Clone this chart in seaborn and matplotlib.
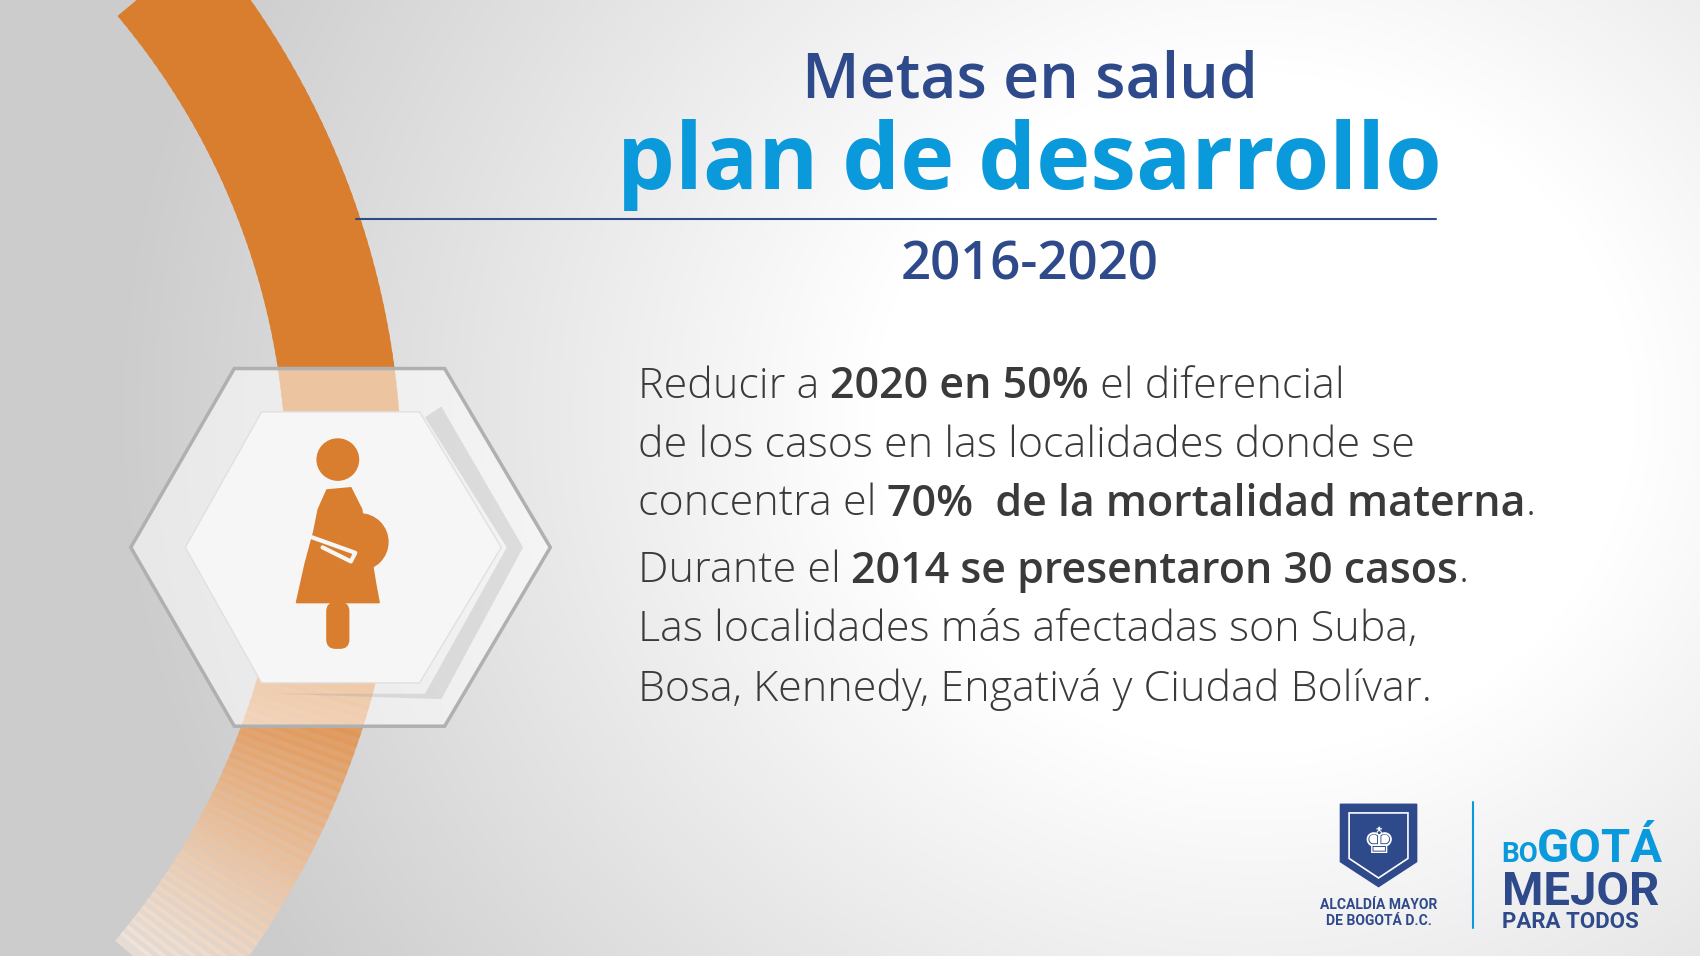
import numpy as np
import matplotlib
matplotlib.use("Agg")
import matplotlib.pyplot as plt
from matplotlib.patches import Polygon, Circle, Wedge, FancyBboxPatch
import seaborn as sns

sns.set_theme(style="white")

# ---- content ----
title_top = "Metas en salud"
title_main = "plan de desarrollo"
period = "2016-2020"
# each line: list of (text, bold)
body_lines = [
    [("Reducir a ", False), ("2020 en 50%", True), (" el diferencial", False)],
    [("de los casos en las localidades donde se", False)],
    [("concentra el ", False), ("70%  de la mortalidad materna", True), (".", False)],
    [("Durante el ", False), ("2014 se presentaron 30 casos", True), (".", False)],
    [("Las localidades más afectadas son Suba,", False)],
    [("Bosa, Kennedy, Engativá y Ciudad Bolívar.", False)],
]
line_y = [357, 411, 465, 527, 581, 636]

W, H = 1560, 882
NAVY = "#2E4A8B"
CYAN = "#0A9ADB"
ORANGE = "#D97D2E"
FONT = "Open Sans"

fig = plt.figure(figsize=(17, 9.56), dpi=100)
ax = fig.add_axes([0, 0, 1, 1])
ax.set_xlim(0, W)
ax.set_ylim(H, 0)
ax.axis("off")

# background gradient
yy, xx = np.mgrid[0:H:2, 0:W:2]
d = np.sqrt(((xx - 1150) / 1.0) ** 2 + ((yy - 380) / 0.9) ** 2)
t = np.clip((d - 350) / 700, 0, 1)
v = 1 - 0.2 * t
bg = np.dstack([v, v, v + 0.005])
ax.imshow(np.clip(bg, 0, 1), extent=[0, W, H, 0], zorder=0, aspect="auto")

# orange arc
cx, cy = -399, 440
r_out, r_in = 767.6, 661.6
n = 120
angs = np.linspace(-40, 40, n + 1)
for i in range(n):
    a0, a1 = angs[i], angs[i + 1]
    mid = (a0 + a1) / 2
    if mid < 12:
        col, al = ORANGE, 1.0
    else:
        f = (mid - 12) / 28
        c0 = np.array(matplotlib.colors.to_rgb(ORANGE))
        c1 = np.array([0.99, 0.93, 0.88])
        col = tuple(c0 * (1 - f) + c1 * f)
        al = 1 - 0.5 * f
    ax.add_patch(Wedge((cx, cy), r_out, a0, a1 + 0.3, width=r_out - r_in,
                       color=col, alpha=al, lw=0, zorder=1))

# hexagons
outer = [(120, 505), (215, 340), (408, 340), (505, 505), (408, 670), (215, 670)]
inner = [(170, 505), (240, 380), (385, 380), (460, 505), (385, 630), (240, 630)]
ax.add_patch(Polygon(outer, closed=True, fc=(1, 1, 1, 0.55), ec="#b0b0b0", lw=2.5, zorder=2))
ax.add_patch(Polygon([(390, 385), (465, 505), (390, 640), (250, 640), (405, 645), (480, 505), (405, 375)],
                     closed=True, fc=(0.6, 0.6, 0.6, 0.25), lw=0, zorder=2))
ax.add_patch(Polygon(inner, closed=True, fc="#f6f6f6", ec="#e0e0e0", lw=1, zorder=3))

# pregnant woman icon
ax.add_patch(Circle((310, 424), 19, color=ORANGE, zorder=4))
body = [(300, 452), (322, 450), (332, 470), (334, 490), (340, 510), (345, 540), (348, 556),
        (272, 556), (280, 520), (288, 490), (292, 470)]
ax.add_patch(Polygon(body, closed=True, color=ORANGE, zorder=4))
ax.add_patch(Circle((330, 500), 26, color=ORANGE, zorder=4))
ax.add_patch(FancyBboxPatch((300, 556), 20, 42, boxstyle="round,pad=0,rounding_size=8",
                            color=ORANGE, zorder=4))
ax.plot([276, 326, 322, 296], [492, 510, 518, 505], color="#f6f6f6", lw=3, zorder=5,
        solid_capstyle="round")

# titles
ax.text(945, 75, title_top, ha="center", va="center", fontsize=45, color=NAVY,
        fontfamily=FONT, fontweight="semibold", zorder=6)
ax.text(945, 152, title_main, ha="center", va="center", fontsize=66, color=CYAN,
        fontfamily=FONT, fontweight="bold", zorder=6)
ax.plot([327, 1318], [202, 202], color=NAVY, lw=1.5, zorder=6)
ax.text(945, 245, period, ha="center", va="center", fontsize=38, color=NAVY,
        fontfamily=FONT, fontweight="semibold", zorder=6)

# body text with mixed weights
fig.canvas.draw()
renderer = fig.canvas.get_renderer()
inv = ax.transData.inverted()
for segs, y in zip(body_lines, line_y):
    x = 585
    for s, b in segs:
        t_ = ax.text(x, y, s, ha="left", va="center", fontsize=31, color="#3a3a3a",
                     fontfamily=FONT, fontweight="semibold" if b else "light", zorder=6)
        bb = t_.get_window_extent(renderer)
        x = inv.transform((bb.x1, bb.y0))[0]

# logos
shield = [(1230, 742), (1300, 742), (1300, 795), (1265, 818), (1230, 795)]
ax.add_patch(Polygon(shield, closed=True, fc=NAVY, ec=NAVY, zorder=6))
ax.add_patch(Polygon([(1238, 750), (1292, 750), (1292, 792), (1265, 810), (1238, 792)],
                     closed=True, fc="none", ec="white", lw=1.2, zorder=7))
ax.text(1265, 778, "♚", ha="center", va="center", fontsize=26, color="white",
        fontfamily="DejaVu Sans", zorder=7)
ax.text(1265, 842, "ALCALDÍA MAYOR\nDE BOGOTÁ D.C.", ha="center", va="center",
        fontsize=10, color=NAVY, fontfamily="Roboto", fontweight="bold",
        linespacing=1.2, zorder=6)
ax.plot([1352, 1352], [740, 856], color=CYAN, lw=1.5, zorder=6)
ax.text(1378, 795, "BO", ha="left", va="baseline", fontsize=20, color=CYAN,
        fontfamily="Roboto", fontweight="bold", zorder=6)
ax.text(1410, 795, "GOTÁ", ha="left", va="baseline", fontsize=34, color=CYAN,
        fontfamily="Roboto", fontweight="bold", zorder=6)
ax.text(1378, 835, "MEJOR", ha="left", va="baseline", fontsize=34, color=NAVY,
        fontfamily="Roboto", fontweight="bold", zorder=6)
ax.text(1378, 856, "PARA TODOS", ha="left", va="baseline", fontsize=16, color=NAVY,
        fontfamily="Roboto", fontweight="bold", zorder=6)

fig.savefig("out.png", dpi=100)
